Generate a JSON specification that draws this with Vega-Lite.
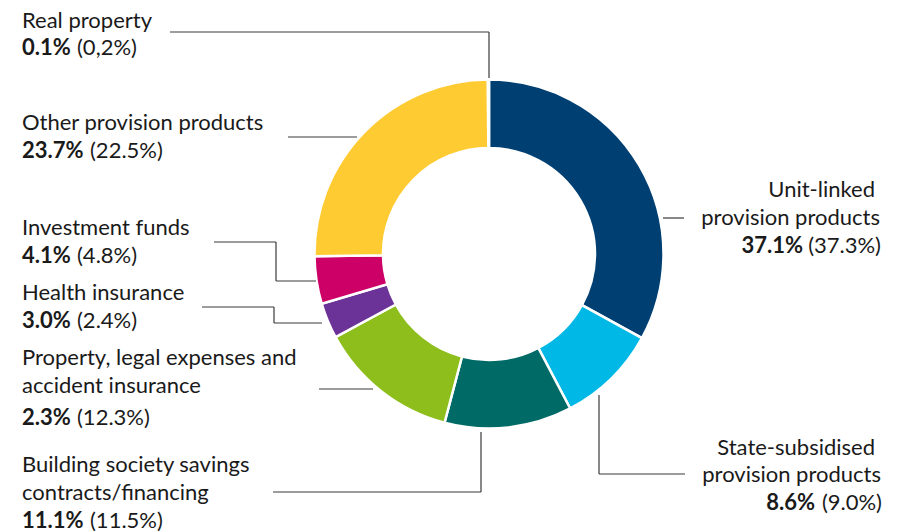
{
  "$schema": "https://vega.github.io/schema/vega-lite/v6.json",
  "width": 898,
  "height": 532,
  "autosize": {"type": "fit", "contains": "padding"},
  "padding": 0,
  "background": "white",
  "config": {"view": {"stroke": null}, "text": {"font": "Lato", "fontSize": 22, "color": "#1a1a1a", "baseline": "alphabetic"}},
  "datasets": {
    "slices": [
      {"cat": "Unit-linked provision products", "share": 33.0, "ord": 1},
      {"cat": "State-subsidised provision products", "share": 9.3, "ord": 2},
      {"cat": "Building society savings contracts/financing", "share": 11.8, "ord": 3},
      {"cat": "Property, legal expenses and accident insurance", "share": 13.0, "ord": 4},
      {"cat": "Health insurance", "share": 3.3, "ord": 5},
      {"cat": "Investment funds", "share": 4.4, "ord": 6},
      {"cat": "Other provision products", "share": 25.1, "ord": 7},
      {"cat": "Real property", "share": 0.1, "ord": 8}
    ],
    "leaders": [
      {"x": 170, "y": 32, "x2": 489, "y2": 32},
      {"x": 489, "y": 32, "x2": 489, "y2": 78},
      {"x": 288, "y": 137, "x2": 357, "y2": 137},
      {"x": 214, "y": 242, "x2": 276, "y2": 242},
      {"x": 276, "y": 242, "x2": 276, "y2": 281},
      {"x": 276, "y": 281, "x2": 316, "y2": 281},
      {"x": 202, "y": 307, "x2": 274, "y2": 307},
      {"x": 274, "y": 307, "x2": 274, "y2": 323},
      {"x": 274, "y": 323, "x2": 322, "y2": 323},
      {"x": 319, "y": 389, "x2": 373, "y2": 389},
      {"x": 273, "y": 492, "x2": 481, "y2": 492},
      {"x": 481, "y": 492, "x2": 481, "y2": 432},
      {"x": 663, "y": 218, "x2": 684, "y2": 218},
      {"x": 599, "y": 395, "x2": 599, "y2": 474},
      {"x": 599, "y": 474, "x2": 685, "y2": 474}
    ],
    "labels": [
      {"txt": "Real property", "x": 22, "y": 27.5, "kind": "L"},
      {"txt": "(0,2%)", "x": 77, "y": 55, "kind": "L"},
      {"txt": "Other provision products", "x": 22, "y": 129.5, "kind": "L"},
      {"txt": "(22.5%)", "x": 90, "y": 158, "kind": "L"},
      {"txt": "Investment funds", "x": 22, "y": 235, "kind": "L"},
      {"txt": "(4.8%)", "x": 77, "y": 263, "kind": "L"},
      {"txt": "Health insurance", "x": 22, "y": 300, "kind": "L"},
      {"txt": "(2.4%)", "x": 77, "y": 328, "kind": "L"},
      {"txt": "Property, legal expenses and", "x": 22, "y": 365, "kind": "L"},
      {"txt": "accident insurance", "x": 22, "y": 393, "kind": "L"},
      {"txt": "(12.3%)", "x": 77, "y": 425, "kind": "L"},
      {"txt": "Building society savings", "x": 22, "y": 472, "kind": "L"},
      {"txt": "contracts/financing", "x": 22, "y": 500, "kind": "L"},
      {"txt": "(11.5%)", "x": 90, "y": 528, "kind": "L"},
      {"txt": "0.1%", "x": 22, "y": 55, "kind": "LB"},
      {"txt": "23.7%", "x": 22, "y": 158, "kind": "LB"},
      {"txt": "4.1%", "x": 22, "y": 263, "kind": "LB"},
      {"txt": "3.0%", "x": 22, "y": 328, "kind": "LB"},
      {"txt": "2.3%", "x": 22, "y": 425, "kind": "LB"},
      {"txt": "11.1%", "x": 22, "y": 528, "kind": "LB"},
      {"txt": "Unit-linked", "x": 875, "y": 197, "kind": "R"},
      {"txt": "provision products", "x": 880, "y": 225, "kind": "R"},
      {"txt": "(37.3%)", "x": 881, "y": 253, "kind": "R"},
      {"txt": "State-subsidised", "x": 875, "y": 455, "kind": "R"},
      {"txt": "provision products", "x": 881, "y": 482, "kind": "R"},
      {"txt": "(9.0%)", "x": 882, "y": 510, "kind": "R"},
      {"txt": "37.1%", "x": 803, "y": 253, "kind": "RB"},
      {"txt": "8.6%", "x": 815, "y": 510, "kind": "RB"}
    ]
  },
  "layer": [
    {
      "data": {"name": "slices"},
      "mark": {"type": "arc", "innerRadius": 106, "outerRadius": 174.5, "stroke": "white", "strokeWidth": 2.5},
      "encoding": {
        "x": {"datum": 489, "type": "quantitative", "scale": {"domain": [0, 898], "nice": false, "zero": false}, "axis": null},
        "y": {"datum": 254, "type": "quantitative", "scale": {"domain": [0, 532], "nice": false, "zero": false, "reverse": true}, "axis": null},
        "theta": {"field": "share", "type": "quantitative", "stack": true},
        "order": {"field": "ord", "type": "quantitative"},
        "color": {
          "field": "cat", "type": "nominal", "legend": null,
          "scale": {
            "domain": ["Unit-linked provision products", "State-subsidised provision products", "Building society savings contracts/financing", "Property, legal expenses and accident insurance", "Health insurance", "Investment funds", "Other provision products", "Real property"],
            "range": ["#003f72", "#00b8e6", "#006a66", "#8dbe1b", "#6b3297", "#cc0066", "#ffcb33", "#c8c8c8"]
          }
        }
      }
    },
    {
      "data": {"name": "leaders"},
      "mark": {"type": "rule", "color": "#3a3a3a", "strokeWidth": 1.2},
      "encoding": {
        "x": {"field": "x", "type": "quantitative", "scale": {"domain": [0, 898], "nice": false, "zero": false}, "axis": null},
        "y": {"field": "y", "type": "quantitative", "scale": {"domain": [0, 532], "nice": false, "zero": false, "reverse": true}, "axis": null},
        "x2": {"field": "x2"},
        "y2": {"field": "y2"}
      }
    },
    {
      "data": {"name": "labels"},
      "transform": [{"filter": "datum.kind === 'L'"}],
      "mark": {"type": "text", "align": "left"},
      "encoding": {
        "x": {"field": "x", "type": "quantitative"},
        "y": {"field": "y", "type": "quantitative"},
        "text": {"field": "txt"}
      }
    },
    {
      "data": {"name": "labels"},
      "transform": [{"filter": "datum.kind === 'LB'"}],
      "mark": {"type": "text", "align": "left", "fontWeight": "bold"},
      "encoding": {
        "x": {"field": "x", "type": "quantitative"},
        "y": {"field": "y", "type": "quantitative"},
        "text": {"field": "txt"}
      }
    },
    {
      "data": {"name": "labels"},
      "transform": [{"filter": "datum.kind === 'R'"}],
      "mark": {"type": "text", "align": "right"},
      "encoding": {
        "x": {"field": "x", "type": "quantitative"},
        "y": {"field": "y", "type": "quantitative"},
        "text": {"field": "txt"}
      }
    },
    {
      "data": {"name": "labels"},
      "transform": [{"filter": "datum.kind === 'RB'"}],
      "mark": {"type": "text", "align": "right", "fontWeight": "bold"},
      "encoding": {
        "x": {"field": "x", "type": "quantitative"},
        "y": {"field": "y", "type": "quantitative"},
        "text": {"field": "txt"}
      }
    }
  ]
}
